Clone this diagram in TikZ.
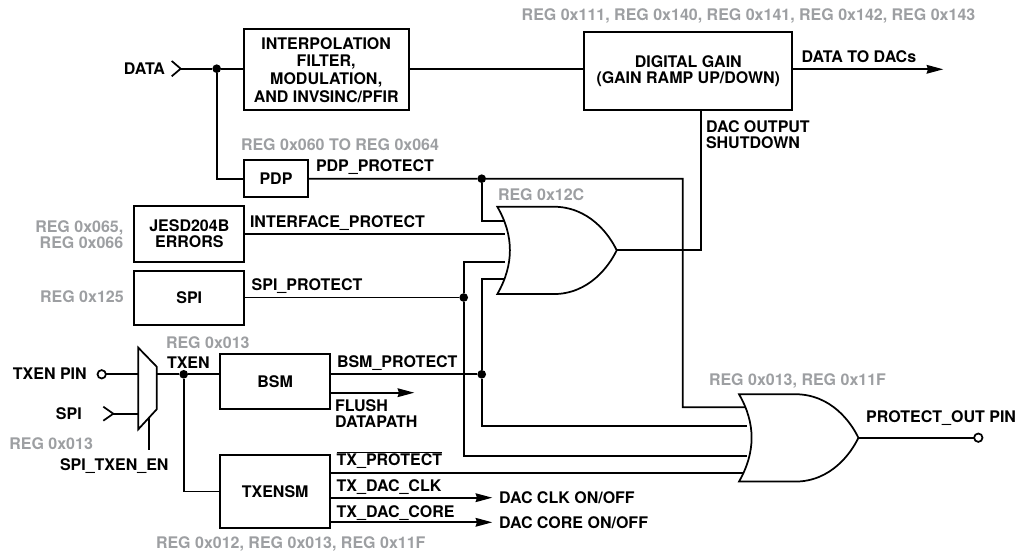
\documentclass[tikz,border=0pt]{standalone}
\usepackage{fontspec}
\setmainfont{TeX Gyre Heros}
\usetikzlibrary{arrows.meta,calc}
\definecolor{reggray}{HTML}{9D9FA2}
\tikzset{
  wire/.style={line width=1.3pt,line join=miter},
  arrowwire/.style={wire,-{Stealth[length=12.5pt,width=6.5pt,inset=1pt]}},
  blk/.style={draw,line width=1.3pt,fill=white,inner sep=0pt,outer sep=0pt,align=center,font=\bfseries\fontsize{12}{12}\selectfont},
  lab/.style={inner sep=0pt,outer sep=0pt,text=black,font=\bfseries\fontsize{12}{12}\selectfont,text height=8.6pt,text depth=0pt},
  mlab/.style={inner sep=0pt,outer sep=0pt,text=black,font=\bfseries\fontsize{12}{12}\selectfont},
  reg/.style={lab,text=reggray},
  mreg/.style={mlab,text=reggray},
  dot/.style={circle,fill=black,inner sep=0pt,outer sep=0pt,minimum size=6.5pt},
  pin/.style={circle,draw,line width=1.3pt,fill=white,inner sep=0pt,outer sep=0pt,minimum size=6.3pt},
  gate/.style={draw,line width=1.3pt,fill=white,line join=miter},
}
\newcommand{\orgate}[2]{%
  \path[gate,shift={(#1,#2)}] (0,0) -- (56,0) .. controls (92,0) and (112,28) .. (119.4,43.6)
    .. controls (112,59) and (92,87.4) .. (56,87.4) -- (0,87.4)
    .. controls (16.8,58) and (16.8,29) .. (0,0) -- cycle;}
\begin{document}
\begin{tikzpicture}[x=0.75pt,y=-0.75pt]
\useasboundingbox (0,0) rectangle (1017,552);
% blocks
\node[blk,font=\bfseries\fontsize{12}{13.3}\selectfont,minimum width=165*0.75pt,minimum height=81*0.75pt] (interp) at (326.2,69.8) {INTERPOLATION\\FILTER,\\MODULATION,\\AND INVSINC/PFIR};
\node[blk,minimum width=208*0.75pt,minimum height=77.7*0.75pt] (gain) at (688.3,71.1) {DIGITAL GAIN\\(GAIN RAMP UP/DOWN)};
\node[blk,minimum width=64.6*0.75pt,minimum height=37*0.75pt] (pdp) at (276,178.8) {PDP};
\node[blk,minimum width=110*0.75pt,minimum height=56*0.75pt] (jesd) at (189.3,233.7) {JESD204B\\ERRORS};
\node[blk,minimum width=110*0.75pt,minimum height=54.6*0.75pt] (spi) at (189.3,298) {SPI};
\node[blk,minimum width=110.3*0.75pt,minimum height=55*0.75pt] (bsm) at (275.2,381.8) {BSM};
\node[blk,minimum width=110.3*0.75pt,minimum height=73*0.75pt] (txensm) at (275.2,491.5) {TXENSM};
% junctions and ports
\coordinate (dataTip) at (180.7,68.7);
\coordinate (dataTop) at (171.7,61);
\coordinate (dataBot) at (171.7,76.3);
\coordinate (gainY) at (0,69.3);
\node[dot] (jdata) at (216.7,68.7) {};
\node[dot] (jpdp) at (481.7,178.7) {};
\node[dot] (jspi) at (463.7,297.5) {};
\node[dot] (jbsm) at (481.7,374.3) {};
\node[dot] (jtxen) at (183.7,374.3) {};
\coordinate (spiTip) at (113.3,413.7);
\coordinate (spiTop) at (103.3,406.7);
\coordinate (spiBot) at (103.3,420.7);
\coordinate (muxA) at (138.3,347.7);
\coordinate (muxB) at (156.7,366.7);
\coordinate (muxC) at (156.7,409.3);
\coordinate (muxD) at (138.3,429.3);
\coordinate (muxOut) at (156.7,374.3);
\coordinate (muxIn1) at (138.3,374.3);
\coordinate (muxIn2) at (138.3,413.7);
\coordinate (selTop) at (149,417.5);
\coordinate (selEnd) at (149,450);
\coordinate (g1a) at (505,221.3);
\coordinate (g1b) at (505,234);
\coordinate (g1c) at (505,262);
\coordinate (g1d) at (505,279.3);
\coordinate (g1out) at (616.7,250.3);
\coordinate (g2a) at (747,407.3);
\coordinate (g2b) at (747,426.3);
\coordinate (g2c) at (747,456.3);
\coordinate (g2d) at (747,473.3);
\coordinate (g2out) at (858.5,437.7);
\coordinate (gainDrop) at (701,110);
\node[pin] (protpin) at (978.3,437.7) {};
\node[pin] (txenpin) at (101.7,374.3) {};
% connectors
\begin{scope}[wire]
\draw (dataTop) -- (dataTip) -- (dataBot);
\draw (dataTip) -- (jdata) -- (interp.west |- jdata);
\draw (jdata) |- (pdp.west);
\draw (interp.east |- gainY) -- (gain.west |- gainY);
\draw (pdp.east) -- (jpdp) -- (682.7,178.7) |- (g2a);
\draw (jpdp) |- (g1a);
\draw (jesd.east |- g1b) -- (g1b);
\draw (spi.east |- jspi) -- (jspi);
\draw (g1c) -| (jspi);
\draw (jspi) |- (g2c);
\draw (bsm.east |- jbsm) -- (jbsm);
\draw (g1d) -| (jbsm);
\draw (jbsm) |- (g2b);
\draw (txensm.east |- g2d) -- (g2d);
\draw (g1out) -| (gainDrop);
\draw (g2out) -- (protpin);
\draw (txenpin) -- (muxIn1);
\draw (spiTop) -- (spiTip) -- (spiBot);
\draw (spiTip) -- (muxIn2);
\draw (muxOut) -- (jtxen) -- (bsm.west |- jtxen);
\draw (jtxen) |- (txensm.west);
\draw (selTop) -- (selEnd);
\draw[fill=white] (muxA) -- (muxB) -- (muxC) -- (muxD) -- cycle;
\end{scope}
\orgate{497.3}{206.7}
\orgate{739}{394.2}
\draw[arrowwire] (gain.east |- gainY) -- (943.3,69.3);
\draw[arrowwire] (bsm.east |- 0,392.7) -- (414.3,392.7);
\draw[arrowwire] (txensm.east |- 0,497.7) -- (492.3,497.7);
\draw[arrowwire] (txensm.east |- 0,522.3) -- (492.3,522.3);
% labels
\node[lab,anchor=east] (tData) at (165,69) {DATA};
\node[reg,anchor=west] (rTop) at (521.7,15) {REG 0x111, REG 0x140, REG 0x141, REG 0x142, REG 0x143};
\node[lab,anchor=west] (tToDac) at (801.7,57) {DATA TO DACs};
\node[mlab,anchor=west,align=left] (tShut) at (706,135) {DAC OUTPUT\\SHUTDOWN};
\node[reg,anchor=west] (r060) at (241,144.7) {REG 0x060 TO REG 0x064};
\node[lab,anchor=west] (tPdp) at (316,165.7) {PDP\_PROTECT};
\node[reg,anchor=west] (r12c) at (498,195) {REG 0x12C};
\node[mreg,anchor=east,align=right] (r065) at (123.3,235) {REG 0x065,\\REG 0x066};
\node[lab,anchor=west] (tIf) at (250,221.3) {INTERFACE\_PROTECT};
\node[reg,anchor=east] (r125) at (123.7,296.7) {REG 0x125};
\node[lab,anchor=west] (tSpi) at (251.7,284.7) {SPI\_PROTECT};
\node[reg,anchor=west] (r013a) at (166,343) {REG 0x013};
\node[lab,anchor=west] (tTxen) at (167,362.7) {TXEN};
\node[lab,anchor=east] (tTxPin) at (86.7,374) {TXEN PIN};
\node[lab,anchor=east] (tSpiIn) at (81.7,413.7) {SPI};
\node[reg,anchor=west] (r013b) at (9.3,443.7) {REG 0x013};
\node[lab,anchor=west] (tSel) at (60,465) {SPI\_TXEN\_EN};
\node[lab,anchor=west] (tBsm) at (337,361.3) {BSM\_PROTECT};
\node[mlab,anchor=west,align=left] (tFlush) at (335,414) {FLUSH\\DATAPATH};
\node[lab,anchor=west] (tTxP) at (336.7,460) {$\overline{\hbox{TX\_PROTECT}}$};
\node[lab,anchor=west] (tClk) at (336.7,485.7) {TX\_DAC\_CLK};
\node[lab,anchor=west] (tCore) at (336.7,511.7) {TX\_DAC\_CORE};
\node[lab,anchor=west] (tClkOn) at (499,497.7) {DAC CLK ON/OFF};
\node[lab,anchor=west] (tCoreOn) at (499,522.7) {DAC CORE ON/OFF};
\node[reg,anchor=west] (r012) at (156,543) {REG 0x012, REG 0x013, REG 0x11F};
\node[reg,anchor=west] (r013c) at (709,380) {REG 0x013, REG 0x11F};
\node[lab,anchor=east] (tOut) at (1016,417) {PROTECT\_OUT PIN};
\end{tikzpicture}
\end{document}
